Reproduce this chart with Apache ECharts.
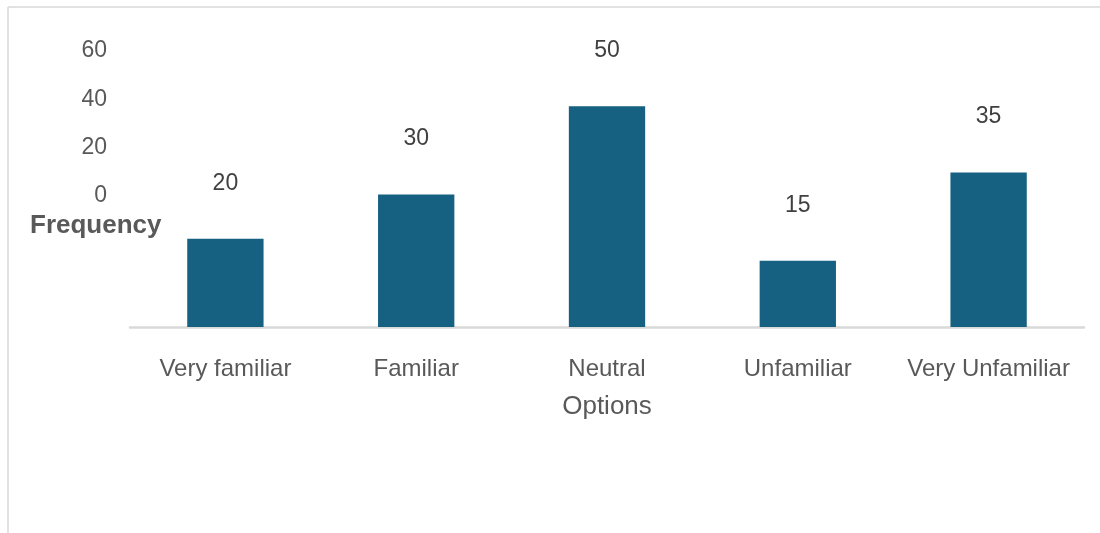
<!DOCTYPE html>
<html>
<head>
<meta charset="utf-8">
<script src="https://cdn.jsdelivr.net/npm/echarts@6/dist/echarts.min.js"></script>
<style>html,body{margin:0;padding:0;background:#fff;}#c{width:1100px;height:533px;}</style>
</head>
<body>
<div id="c"></div>
<script>
const categories = ['Very familiar', 'Familiar', 'Neutral', 'Unfamiliar', 'Very Unfamiliar'];
const frequency = [20, 30, 50, 15, 35];
const yTickMin = 0, yTickMax = 60, yTickStep = 20;
const xTitle = 'Options';
const yTitle = 'Frequency';

const chart = echarts.init(document.getElementById('c'), null, {renderer: 'canvas'});
const FONT = '"Liberation Sans", Arial, sans-serif';
const GRAY = '#595959';
chart.setOption({
  animation: false,
  backgroundColor: '#fff',
  grid: [
    {left: 130, right: 16, top: 62, bottom: 206},
    {left: 115, width: 10, top: 51, height: 145}
  ],
  xAxis: [
    {
      gridIndex: 0, type: 'category', data: categories,
      axisLine: {lineStyle: {color: '#d9d9d9', width: 2.5}},
      axisTick: {show: false},
      axisLabel: {color: GRAY, fontFamily: FONT, fontSize: 24, margin: 30, interval: 0, hideOverlap: false},
      name: xTitle, nameLocation: 'middle', nameGap: 67,
      nameTextStyle: {color: GRAY, fontFamily: FONT, fontSize: 26}
    },
    {gridIndex: 1, type: 'value', show: false}
  ],
  yAxis: [
    {gridIndex: 0, type: 'value', min: yTickMin, max: yTickMax, show: false},
    {
      gridIndex: 1, type: 'value', min: yTickMin, max: yTickMax, interval: yTickStep,
      axisLine: {show: false}, axisTick: {show: false}, splitLine: {show: false},
      axisLabel: {color: GRAY, fontFamily: FONT, fontSize: 23, margin: 8}
    }
  ],
  graphic: [
    {type: 'line', shape: {x1: 8, y1: 7, x2: 1100, y2: 7}, style: {stroke: '#d9d9d9', lineWidth: 1.5}},
    {type: 'line', shape: {x1: 8, y1: 7, x2: 8, y2: 533}, style: {stroke: '#d9d9d9', lineWidth: 1.5}},
    {type: 'text', x: 30, y: 226, style: {text: yTitle, fill: GRAY, font: 'bold 26px ' + FONT, verticalAlign: 'middle'}}
  ],
  series: [{
    type: 'bar', xAxisIndex: 0, yAxisIndex: 0, data: frequency,
    barWidth: '40%',
    itemStyle: {color: '#166082'},
    label: {show: true, position: 'top', distance: 44, color: '#404040', fontFamily: FONT, fontSize: 23}
  }]
});
</script>
</body>
</html>
